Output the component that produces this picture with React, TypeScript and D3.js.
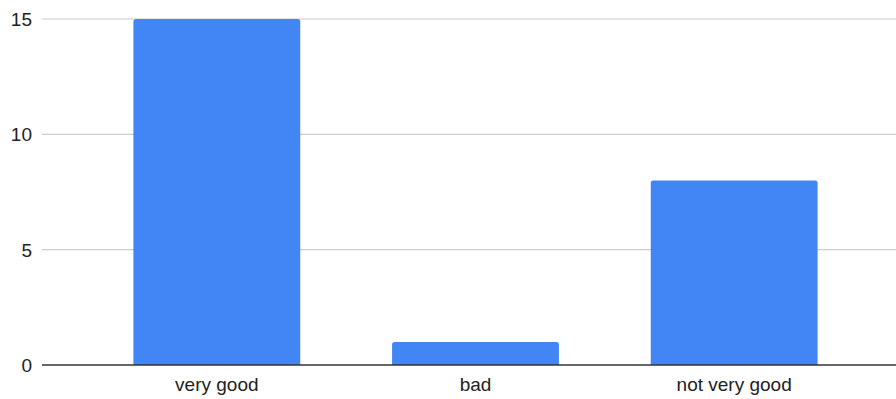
import React from "react";
import * as d3 from "d3";

const categories = ["very good", "bad", "not very good"];
const counts = [15, 1, 8];
const yTicks = [0, 5, 10, 15];

const W = 896;
const H = 399;

export default function App() {
  const x = d3
    .scaleBand<string>()
    .domain(categories)
    .range([87.5, 863.5])
    .paddingInner(0.355)
    .paddingOuter(0.1775);
  const y = d3.scaleLinear().domain([0, 15]).range([365, 19]);
  const gridLeft = 42;
  const font = "'Liberation Sans', Arial, sans-serif";
  const r = 2.5;

  const barPath = (cx: number, w: number, top: number, bottom: number) => {
    const p = d3.path();
    p.moveTo(cx, bottom);
    p.lineTo(cx, top + r);
    p.quadraticCurveTo(cx, top, cx + r, top);
    p.lineTo(cx + w - r, top);
    p.quadraticCurveTo(cx + w, top, cx + w, top + r);
    p.lineTo(cx + w, bottom);
    p.closePath();
    return p.toString();
  };

  return (
    <svg
      width={W}
      height={H}
      style={{ position: "absolute", left: 0, top: 0, background: "#fff" }}
      fontFamily={font}
    >
      {yTicks.map((t) =>
        t === 0 ? null : (
          <line
            key={"g" + t}
            x1={gridLeft}
            x2={W}
            y1={y(t)}
            y2={y(t)}
            stroke="#cccccc"
            strokeWidth={1.2}
          />
        )
      )}
      {yTicks.map((t) => (
        <text
          key={"t" + t}
          x={32}
          y={y(t)}
          dy="0.36em"
          textAnchor="end"
          fontSize={19}
          fill="#222"
        >
          {t}
        </text>
      ))}
      {categories.map((c, i) => (
        <path
          key={c}
          d={barPath(x(c)!, x.bandwidth(), y(counts[i]), y(0))}
          fill="#4285f4"
        />
      ))}
      <line x1={gridLeft} x2={W} y1={y(0)} y2={y(0)} stroke="#333" strokeWidth={1.3} />
      {categories.map((c) => (
        <text
          key={"x" + c}
          x={x(c)! + x.bandwidth() / 2}
          y={391}
          textAnchor="middle"
          fontSize={19}
          fill="#222"
        >
          {c}
        </text>
      ))}
    </svg>
  );
}
